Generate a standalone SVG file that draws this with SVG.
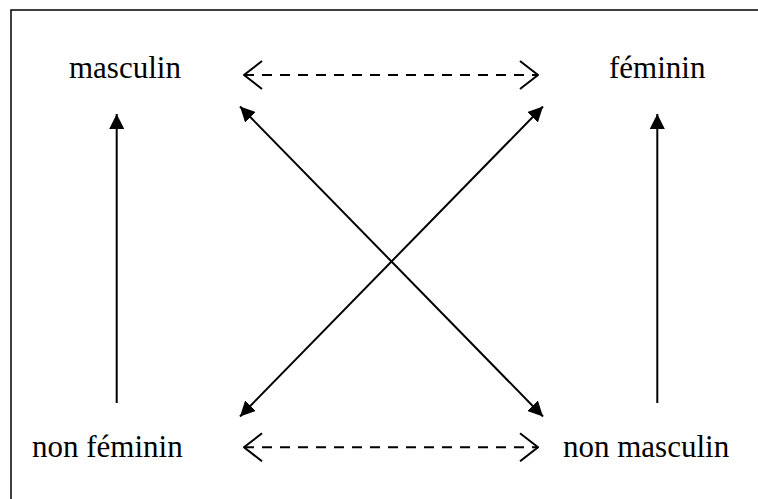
<svg xmlns="http://www.w3.org/2000/svg" width="758" height="499" viewBox="0 0 758 499">
  <style>
    .lbl { font-family: "Liberation Serif", "Times New Roman", serif; font-size: 31px; fill: #000; }
    .ln { stroke: #000; stroke-width: 2; fill: none; }
    .dash { stroke: #000; stroke-width: 2; fill: none; stroke-dasharray: 10 8; }
  </style>
  <defs>
    <marker id="tri" viewBox="0 0 15 15" refX="15" refY="7.5" markerWidth="15" markerHeight="15" markerUnits="userSpaceOnUse" orient="auto-start-reverse">
      <path d="M0,0 L15,7.5 L0,15 Z" fill="#000"/>
    </marker>
    <marker id="open" viewBox="0 0 20 30" refX="19" refY="15" markerWidth="20" markerHeight="30" markerUnits="userSpaceOnUse" orient="auto-start-reverse">
      <path d="M1,1 L19,15 L1,29" fill="none" stroke="#000" stroke-width="2"/>
    </marker>
  </defs>
  <rect x="0" y="0" width="758" height="499" fill="#fff"/>
  <rect x="11" y="10" width="760" height="510" fill="none" stroke="#000" stroke-width="1.5"/>

  <g id="masculin"><text class="lbl" x="69" y="77.5">masculin</text></g>
  <g id="feminin"><text class="lbl" x="609" y="77.5">féminin</text></g>
  <g id="non-feminin"><text class="lbl" x="32" y="457">non féminin</text></g>
  <g id="non-masculin"><text class="lbl" x="563" y="457">non masculin</text></g>

  <g id="connectors">
    <line class="dash" x1="244" y1="75" x2="538" y2="75" marker-start="url(#open)" marker-end="url(#open)"/>
    <line class="dash" x1="244" y1="447.3" x2="538" y2="447.3" marker-start="url(#open)" marker-end="url(#open)"/>
    <line class="ln" x1="116.7" y1="403" x2="116.7" y2="114" marker-end="url(#tri)"/>
    <line class="ln" x1="657.3" y1="403" x2="657.3" y2="114" marker-end="url(#tri)"/>
    <line class="ln" x1="240" y1="106.5" x2="543" y2="416.5" marker-start="url(#tri)" marker-end="url(#tri)"/>
    <line class="ln" x1="240" y1="416.5" x2="543" y2="106.5" marker-start="url(#tri)" marker-end="url(#tri)"/>
  </g>
</svg>
